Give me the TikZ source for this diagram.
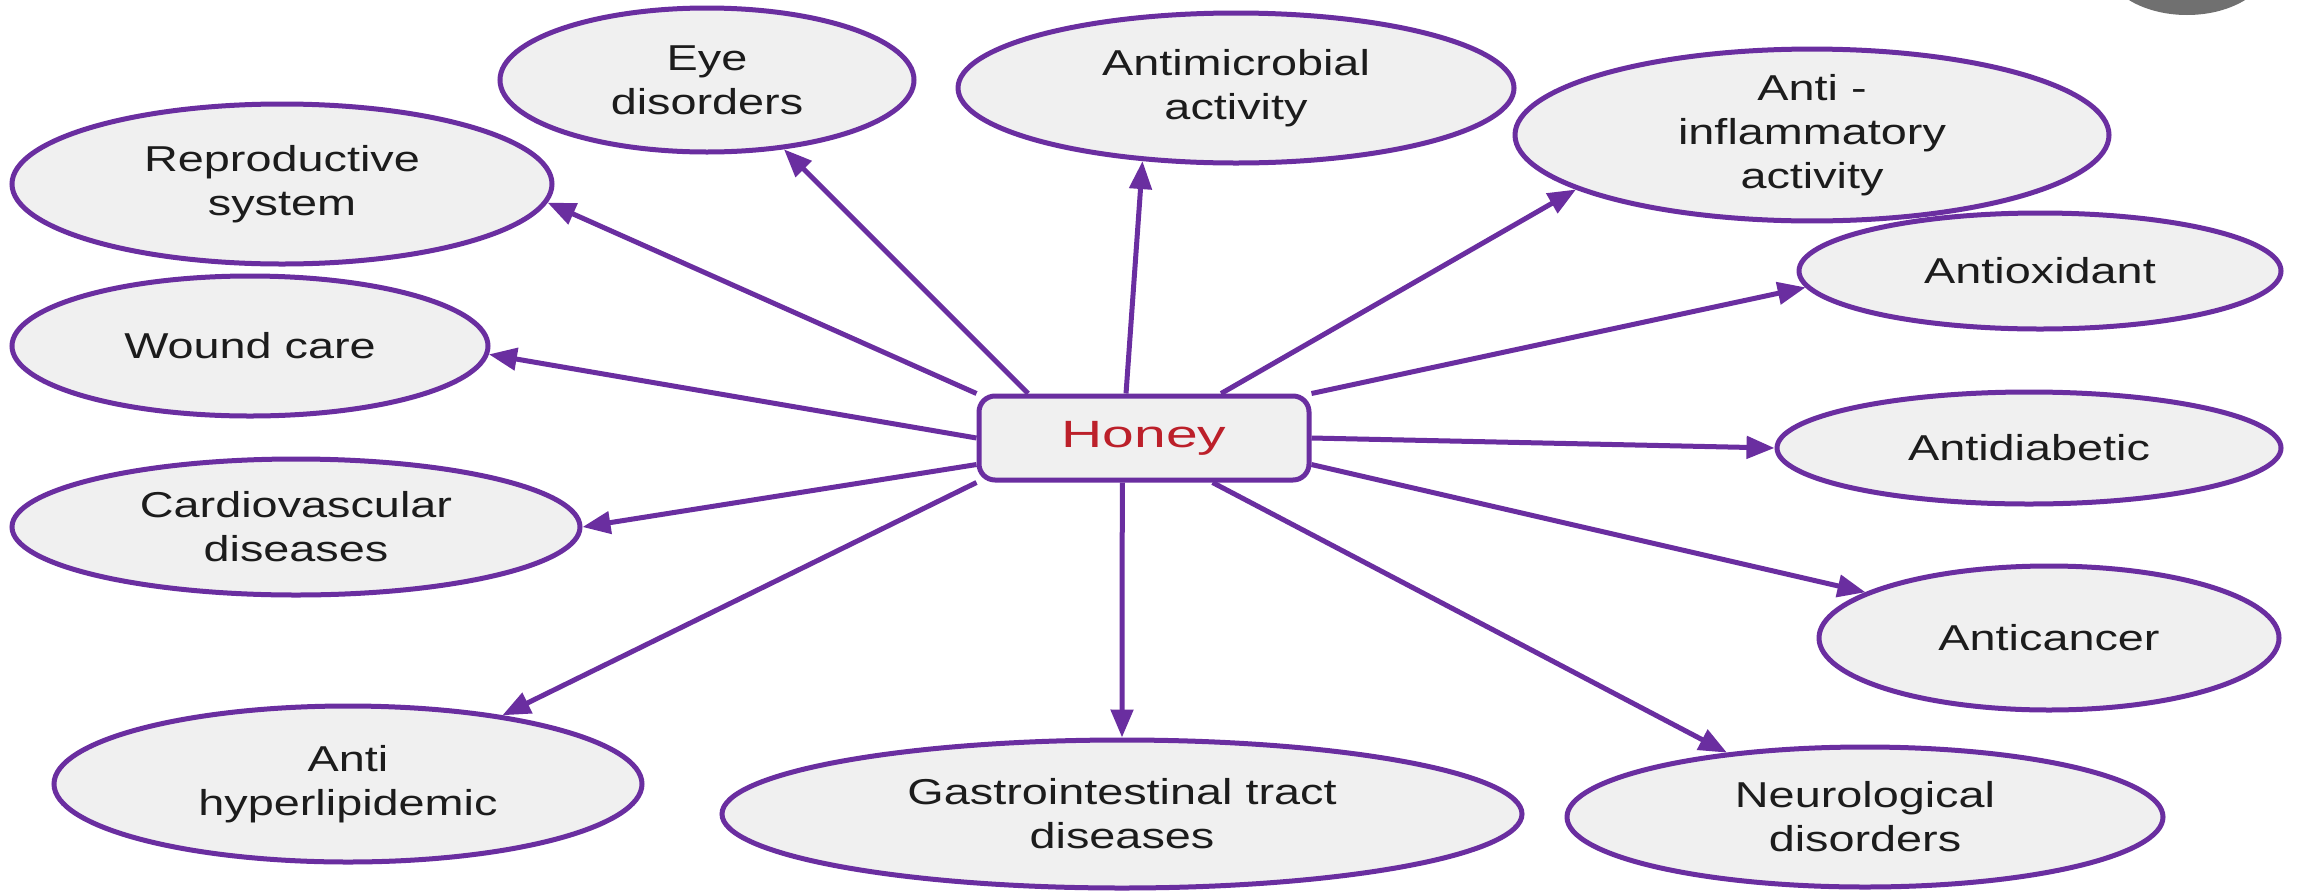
\documentclass[tikz,border=0pt]{standalone}
\usepackage{fontspec}
\setmainfont{Liberation Sans}
\newfontfamily\labfont{Liberation Sans}[FakeStretch=1.3]
\newfontfamily\honeyfont{Liberation Sans}[FakeStretch=1.5]
\usetikzlibrary{arrows.meta,shapes.geometric}
\definecolor{purp}{RGB}{106,46,160}
\definecolor{bubfill}{RGB}{240,240,240}
\definecolor{txt}{RGB}{28,28,28}
\definecolor{honeyred}{RGB}{188,32,42}
\definecolor{blobgrey}{RGB}{112,112,112}
\begin{document}
\begin{tikzpicture}[x=1pt,y=-1pt,
  bub/.style={ellipse, draw=purp, line width=5pt, fill=bubfill, inner sep=0pt,
    text=txt, align=center, font=\labfont\fontsize{36}{44}\selectfont},
  hub/.style={rectangle, rounded corners=16pt, draw=purp, line width=5pt, fill=bubfill,
    inner sep=0pt, text=honeyred, font=\honeyfont\fontsize{38}{44}\selectfont},
  arr/.style={draw=purp, line width=5pt, -{Triangle[length=28pt,width=22pt]}},
  blob/.style={fill=blobgrey}
]
\useasboundingbox (0,0) rectangle (2297,892);
\fill[white] (0,0) rectangle (2297,892);
\begin{scope}
  \clip (0,0) rectangle (2297,892);
  \fill[blob] (2187,-39) ellipse [x radius=84pt, y radius=54pt];
\end{scope}

\node[bub, minimum width=540pt, minimum height=160pt] (repro) at (282,184) {Reproductive\\system};
\node[bub, minimum width=476pt, minimum height=140pt] (wound) at (250,346) {Wound care};
\node[bub, minimum width=568pt, minimum height=136pt] (cardio) at (296,527) {Cardiovascular\\diseases};
\node[bub, minimum width=588pt, minimum height=156pt] (hyper) at (348,784) {Anti\\hyperlipidemic};
\node[bub, minimum width=800pt, minimum height=148pt] (gastro) at (1122,814) {Gastrointestinal tract\\diseases};
\node[bub, minimum width=596pt, minimum height=140pt] (neuro) at (1865,817) {Neurological\\disorders};
\node[bub, minimum width=460pt, minimum height=144pt] (cancer) at (2049,638) {Anticancer};
\node[bub, minimum width=504pt, minimum height=112pt] (diab) at (2029,448) {Antidiabetic};
\node[bub, minimum width=482pt, minimum height=116pt] (oxid) at (2040,271) {Antioxidant};
\node[bub, minimum width=594pt, minimum height=156pt] (inflam) at (1812,135) {Anti -\\inflammatory\\activity};
\node[bub, minimum width=556pt, minimum height=150pt] (micro) at (1236,88) {Antimicrobial\\activity};
\node[bub, minimum width=414pt, minimum height=144pt] (eye) at (707,80) {Eye\\disorders};

\node[hub, minimum width=330pt, minimum height=84pt] (honey) at (1144,438) {Honey};

\draw[arr] (honey.north west) -- (repro.-4);
\draw[arr] (honey.159) -- (eye.-42);
\draw[arr] (honey.112) -- (micro.218);
\draw[arr] (honey.30) -- (inflam.193);
\draw[arr] (honey.north east) -- (oxid.184);
\draw[arr] (honey.east) -- (diab.180);
\draw[arr] (honey.-9) -- (cancer.166);
\draw[arr] (honey.-33) -- (neuro.155);
\draw[arr] (honey.-116) -- (gastro.90);
\draw[arr] (honey.south west) -- (hyper.24);
\draw[arr] (honey.189) -- (cardio.0);
\draw[arr] (honey.west) -- (wound.-2);
\end{tikzpicture}
\end{document}
